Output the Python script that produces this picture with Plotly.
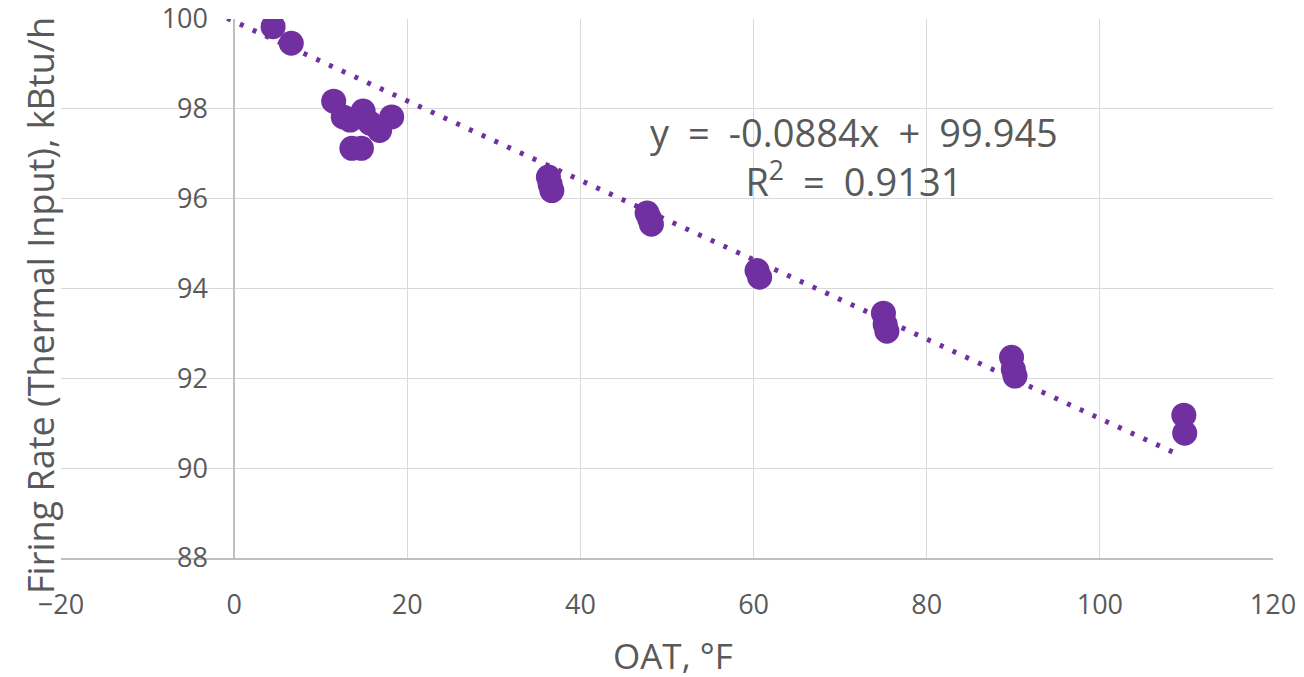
import plotly.graph_objects as go

# ---- data ----
oat_f = [4.5, 6.6, 11.5, 12.6, 13.4, 14.9, 15.7, 16.8, 18.2, 13.6, 14.7,
         36.3, 36.5, 36.7, 47.7, 48.0, 48.2, 60.4, 60.7,
         75.0, 75.2, 75.4, 89.8, 90.0, 90.2, 109.7, 109.8]
firing_rate = [99.83, 99.46, 98.17, 97.82, 97.75, 97.95, 97.68, 97.52, 97.82, 97.12, 97.12,
               96.48, 96.32, 96.18, 95.68, 95.55, 95.43, 94.40, 94.25,
               93.45, 93.20, 93.05, 92.47, 92.20, 92.05, 91.18, 90.78]
trend_slope = -0.0884
trend_intercept = 99.945
trend_r2 = 0.9131
trend_x = [-0.8, 108.8]
trend_y = [trend_slope * x + trend_intercept for x in trend_x]

x_ticks = [-20, 0, 20, 40, 60, 80, 100, 120]
y_ticks = [88, 90, 92, 94, 96, 98, 100]

purple = "#7030A0"
grid = "#d9d9d9"
axis_line = "#bfbfbf"
text_col = "#595959"
font_family = "Open Sans, Noto Sans, sans-serif"
sp = "\u2002"

# the page body has an 8px margin; the figure is sized/offset so the plot lands at the target pixels
W, H = 1296, 669
L, R, T, B = 53, 31, 11, 119
pw = W - L - R
ph = H - T - B


def px_x(px):
    return (px - 8 - L) / pw


def px_y(py):
    return 1 - (py - 8 - T) / ph


fig = go.Figure()
fig.add_trace(go.Scatter(
    x=oat_f, y=firing_rate, mode="markers",
    marker=dict(size=25, color=purple, line=dict(width=0)),
    showlegend=False, hoverinfo="x+y"))
fig.add_trace(go.Scatter(
    x=trend_x, y=trend_y, mode="lines",
    line=dict(color=purple, width=5, dash="4px,10px"),
    showlegend=False, hoverinfo="skip"))

eq_text = (f"y{sp}={sp}{trend_slope:.4f}x{sp}+{sp}{trend_intercept:.3f}"
           f"<br>R<sup>2</sup>{sp}={sp}{trend_r2:.4f}")

fig.update_layout(
    width=W, height=H,
    margin=dict(l=L, r=R, t=T, b=B, autoexpand=False),
    paper_bgcolor="white", plot_bgcolor="white",
    font=dict(family=font_family, color=text_col),
    xaxis=dict(
        range=[-20, 120], tickvals=x_ticks, showgrid=True, gridcolor=grid, gridwidth=1.3,
        zeroline=False, showline=True, linecolor=axis_line, linewidth=1.5,
        ticks="outside", ticklen=22, tickcolor="rgba(0,0,0,0)",
        tickfont=dict(size=27, color=text_col, family=font_family),
        ticklabeloverflow="allow", fixedrange=True),
    yaxis=dict(
        range=[88, 100], tickvals=y_ticks, showgrid=True, gridcolor=grid, gridwidth=1.3,
        zeroline=False, showline=True, linecolor=axis_line, linewidth=1.5,
        anchor="free", position=20 / 140,
        ticks="outside", ticklen=20, tickcolor="rgba(0,0,0,0)",
        tickfont=dict(size=27, color=text_col, family=font_family),
        ticklabeloverflow="allow", fixedrange=True),
    annotations=[
        dict(text=eq_text,
             xref="paper", yref="paper", x=px_x(854), y=px_y(156),
             xanchor="center", yanchor="middle", showarrow=False, align="center",
             font=dict(size=38, color=text_col, family=font_family)),
        dict(text="Firing Rate (Thermal Input), kBtu/h",
             xref="paper", yref="paper", x=px_x(40), y=px_y(306),
             xanchor="center", yanchor="middle", textangle=-90, showarrow=False,
             font=dict(size=36, color=text_col, family=font_family)),
        dict(text="OAT, °F",
             xref="paper", yref="paper", x=px_x(673), y=px_y(655),
             xanchor="center", yanchor="middle", showarrow=False,
             font=dict(size=35, color=text_col, family=font_family)),
    ],
)

fig.write_html("out.html")
